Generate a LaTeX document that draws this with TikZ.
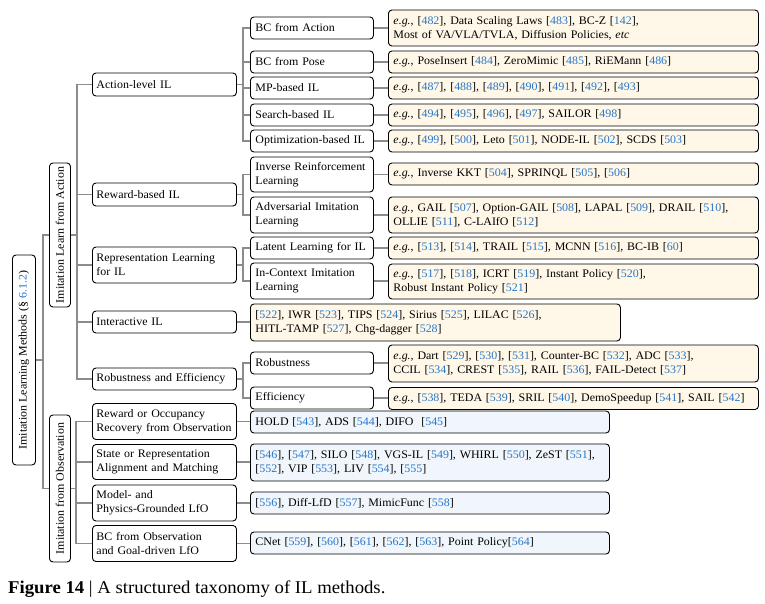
\documentclass[tikz,border=0pt]{standalone}
\usepackage{fontspec}
\setmainfont[FakeStretch=1.04]{Liberation Serif}
\usepackage{graphicx}
\definecolor{citeblue}{RGB}{38,118,200}
\definecolor{leafact}{RGB}{255,248,233}
\definecolor{leafobs}{RGB}{240,246,252}
\definecolor{linegray}{RGB}{140,140,140}
\newcommand{\boxfont}{\fontsize{11.5}{14}\selectfont}
\newcommand{\rf}[1]{[\textcolor{citeblue}{#1}]}
\newcommand{\eg}{\textit{e.g.},}
\tikzset{
  box/.style={draw=black, rounded corners=3.5pt, line width=0.9pt, fill=white, anchor=west,
    inner xsep=5pt, inner ysep=0pt, align=left, font=\boxfont},
  vbox/.style={box, align=center, minimum width=21pt},
  lvtwo/.style={box, inner xsep=4pt, text width=136pt},
  lvthree/.style={box, text width=113pt},
  leafa/.style={box, fill=leafact, text width=360pt},
  leafo/.style={box, fill=leafobs, text width=349pt},
  conn/.style={draw=linegray, line width=1.2pt}
}
\begin{document}
\begin{tikzpicture}[x=1pt, y=-1pt]
\useasboundingbox (0,0) rectangle (765,604);
\node[vbox, minimum width=23pt, minimum height=210pt] (root) at (12,360) {\rotatebox{90}{Imitation Learning Methods (\S~\textcolor{citeblue}{6.1.2})}};
\node[vbox, minimum height=144pt] (fromact) at (49,235) {\rotatebox{90}{Imitation Learn from Action}};
\node[vbox, minimum height=147pt] (fromobs) at (49,488.5) {\rotatebox{90}{Imitation from Observation}};
\node[lvtwo, minimum height=23pt] (actlvl) at (92,84.5) {Action-level IL};
\node[lvtwo, minimum height=23pt] (rewbased) at (92,194.5) {Reward-based IL};
\node[lvtwo, minimum height=36pt] (replearn) at (92,265) {Representation Learning\\for IL};
\node[lvtwo, minimum height=22pt] (interact) at (92,322) {Interactive IL};
\node[lvtwo, minimum height=22pt] (robeff) at (92,379) {Robustness and Efficiency};
\node[lvtwo, minimum height=36pt] (rewocc) at (92,421.5) {Reward or Occupancy\\Recovery from Observation};
\node[lvtwo, minimum height=35pt] (stalign) at (92,462) {State or Representation\\Alignment and Matching};
\node[lvtwo, minimum height=36pt] (modphys) at (92,503) {Model- and\\Physics-Grounded LfO};
\node[lvtwo, minimum height=36pt] (bcobs) at (92,543.5) {BC from Observation\\and Goal-driven LfO};
\node[lvthree, minimum height=22pt] (bcact) at (250,28) {BC from Action};
\node[lvthree, minimum height=22pt] (bcpose) at (250,62) {BC from Pose};
\node[lvthree, minimum height=22pt] (mpbased) at (250,88) {MP-based IL};
\node[lvthree, minimum height=22pt] (srchbased) at (250,115) {Search-based IL};
\node[lvthree, minimum height=22pt] (optbased) at (250,141) {Optimization-based IL};
\node[lvthree, minimum height=35pt] (invrl) at (250,174.5) {Inverse Reinforcement\\Learning};
\node[lvthree, minimum height=36pt] (advil) at (250,215) {Adversarial Imitation\\Learning};
\node[lvthree, minimum height=22pt] (latent) at (250,248) {Latent Learning for IL};
\node[lvthree, minimum height=36pt] (incontext) at (250,281) {In-Context Imitation\\Learning};
\node[lvthree, minimum height=22pt] (robust) at (250,363) {Robustness};
\node[lvthree, minimum height=22pt] (effic) at (250,398) {Efficiency};
\node[leafa, minimum height=36pt] (lbcact) at (388,28) {\eg{} \rf{482}, Data Scaling Laws \rf{483}, BC-Z \rf{142},\\Most of VA/VLA/TVLA, Diffusion Policies, \textit{etc}};
\node[leafa, minimum height=22pt] (lbcpose) at (388,62) {\eg{} PoseInsert \rf{484}, ZeroMimic \rf{485}, RiEMann \rf{486}};
\node[leafa, minimum height=22pt] (lmp) at (388,88) {\eg{} \rf{487}, \rf{488}, \rf{489}, \rf{490}, \rf{491}, \rf{492}, \rf{493}};
\node[leafa, minimum height=22pt] (lsrch) at (388,115) {\eg{} \rf{494}, \rf{495}, \rf{496}, \rf{497}, SAILOR \rf{498}};
\node[leafa, minimum height=22pt] (lopt) at (388,141) {\eg{} \rf{499}, \rf{500}, Leto \rf{501}, NODE-IL \rf{502}, SCDS \rf{503}};
\node[leafa, minimum height=22pt] (linvrl) at (388,174) {\eg{} Inverse KKT \rf{504}, SPRINQL \rf{505}, \rf{506}};
\node[leafa, minimum height=36pt] (ladv) at (388,215) {\eg{} GAIL \rf{507}, Option-GAIL \rf{508}, LAPAL \rf{509}, DRAIL \rf{510},\\OLLIE \rf{511}, C-LAIfO \rf{512}};
\node[leafa, minimum height=22pt] (llatent) at (388,248) {\eg{} \rf{513}, \rf{514}, TRAIL \rf{515}, MCNN \rf{516}, BC-IB \rf{60}};
\node[leafa, minimum height=35pt] (lincontext) at (388,281.5) {\eg{} \rf{517}, \rf{518}, ICRT \rf{519}, Instant Policy \rf{520},\\Robust Instant Policy \rf{521}};
\node[leafa, minimum height=37pt] (linteract) at (250,322.5) {\rf{522}, IWR \rf{523}, TIPS \rf{524}, Sirius \rf{525}, LILAC \rf{526},\\HITL-TAMP \rf{527}, Chg-dagger \rf{528}};
\node[leafa, minimum height=37pt] (lrobust) at (388,363.5) {\eg{} Dart \rf{529}, \rf{530}, \rf{531}, Counter-BC \rf{532}, ADC \rf{533},\\CCIL \rf{534}, CREST \rf{535}, RAIL \rf{536}, FAIL-Detect \rf{537}};
\node[leafa, minimum height=22pt] (leffic) at (388,398.5) {\eg{} \rf{538}, TEDA \rf{539}, SRIL \rf{540}, DemoSpeedup \rf{541}, SAIL \rf{542}};
\node[leafo, minimum height=22pt] (lrewocc) at (250,422) {HOLD \rf{543}, ADS \rf{544}, DIFO \ \rf{545}};
\node[leafo, minimum height=37pt] (lstalign) at (250,462.5) {\rf{546}, \rf{547}, SILO \rf{548}, VGS-IL \rf{549}, WHIRL \rf{550}, ZeST \rf{551},\\\rf{552}, VIP \rf{553}, LIV \rf{554}, \rf{555}};
\node[leafo, minimum height=22pt] (lmodphys) at (250,503) {\rf{556}, Diff-LfD \rf{557}, MimicFunc \rf{558}};
\node[leafo, minimum height=22pt] (lbcobs) at (250,543) {CNet \rf{559}, \rf{560}, \rf{561}, \rf{562}, \rf{563}, Point Policy\rf{564}};
\node[anchor=base west, inner sep=0pt, font=\fontsize{18}{21}\selectfont] (caption) at (8,593) {\textbf{Figure 14} | A structured taxonomy of IL methods.};
\foreach \c in {fromact,fromobs} \draw[conn] (root.east) -- ++(7,0) |- (\c.west);
\foreach \c in {actlvl,rewbased,replearn,interact,robeff} \draw[conn] (fromact.east) -- ++(6,0) |- (\c.west);
\foreach \c in {rewocc,stalign,modphys,bcobs} \draw[conn] (fromobs.east) -- ++(5,0) |- (\c.west);
\foreach \c in {bcact,bcpose,mpbased,srchbased,optbased} \draw[conn] (actlvl.east) -- ++(6,0) |- (\c.west);
\foreach \c in {invrl,advil} \draw[conn] (rewbased.east) -- ++(6,0) |- (\c.west);
\foreach \c in {latent,incontext} \draw[conn] (replearn.east) -- ++(6,0) |- (\c.west);
\foreach \c in {robust,effic} \draw[conn] (robeff.east) -- ++(6,0) |- (\c.west);
\foreach \a/\b in {bcact/lbcact,bcpose/lbcpose,mpbased/lmp,srchbased/lsrch,optbased/lopt,invrl/linvrl,advil/ladv,latent/llatent,incontext/lincontext,robust/lrobust,effic/leffic,interact/linteract,rewocc/lrewocc,stalign/lstalign,modphys/lmodphys,bcobs/lbcobs}
  \draw[conn] (\a.east) -- (\a.east -| \b.west);
\end{tikzpicture}
\end{document}
